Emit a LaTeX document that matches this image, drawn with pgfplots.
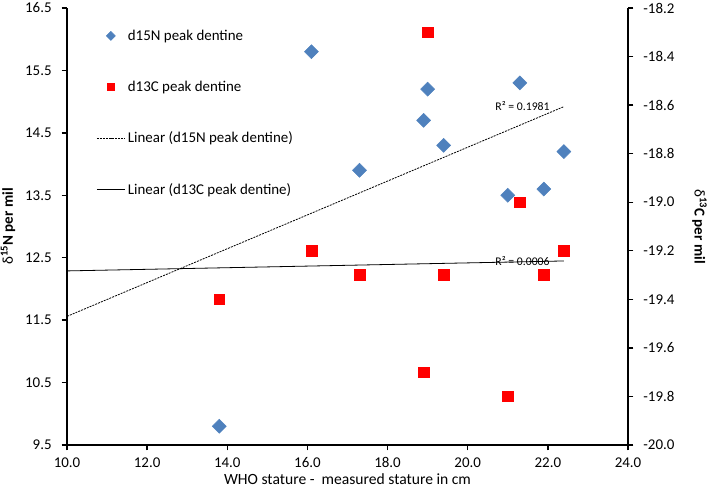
\documentclass[border=0pt]{standalone}
\usepackage{pgfplots}
\pgfplotsset{compat=1.18}
\usepackage{fontspec}
\setmainfont{Carlito}
\definecolor{nblue}{HTML}{4F81BD}
\definecolor{cred}{HTML}{FF0000}

\begin{document}
\begin{tikzpicture}
\pgfplotsset{
  stature/.style={
    scale only axis, width=420.75pt, height=327.75pt,
    xmin=10, xmax=24,
    axis line style={line width=1.8pt},
    tick style={line width=1pt, black},
    major tick length=4pt,
    tick align=outside,
    yticklabel shift=4pt, xticklabel shift=2pt,
    ylabel style={font=\fontsize{11.3}{13}\selectfont},
    /pgf/number format/assume math mode=true,
  },
}
\begin{axis}[name=main, stature,
  axis x line*=bottom, axis y line*=left,
  ymin=9.5, ymax=16.5,
  xtick={10,12,14,16,18,20,22,24},
  ytick={9.5,10.5,11.5,12.5,13.5,14.5,15.5,16.5},
  xticklabel style={font=\fontsize{11.2}{13}\selectfont,
    /pgf/number format/.cd, fixed, fixed zerofill, precision=1},
  yticklabel style={font=\fontsize{11.2}{13}\selectfont,
    /pgf/number format/.cd, fixed, fixed zerofill, precision=1},
  ylabel={δ\textsuperscript{\bfseries 15}\textbf{N per mil}},
  ylabel style={at={(rel axis cs:-0.105,0.5)}, anchor=center},
  legend style={draw=none, fill=none, at={(0.052,0.957)}, anchor=north west,
                font=\fontsize{11.2}{13}\selectfont, row sep=25pt, inner sep=0pt},
  legend cell align=left,
  legend image code/.code={\draw[mark repeat=2, mark phase=2, #1]
      plot coordinates {(0pt,0pt) (10.5pt,0pt) (21pt,0pt)};},
]
\addlegendimage{only marks, mark=square*, mark size=2.4pt, mark options={rotate=45}, nblue}
\addlegendentry{d15N peak dentine}
\addlegendimage{only marks, mark=square*, mark size=2.8pt, cred}
\addlegendentry{d13C peak dentine}
\addlegendimage{black, line width=0.6pt, dash pattern=on 1.5pt off 0.8pt}
\addlegendentry{Linear (d15N peak dentine)}
\addlegendimage{black, line width=0.6pt}
\addlegendentry{Linear (d13C peak dentine)}

\addplot[black, line width=0.6pt, dash pattern=on 1.5pt off 0.8pt, forget plot]
  coordinates {(10,11.56) (22.4,14.92)};
\addplot[only marks, mark=square*, mark size=3.7pt, mark options={rotate=45}, nblue, forget plot]
  coordinates {
  (13.8,9.8) (16.1,15.8) (17.3,13.9) (18.9,14.7) (19.0,15.2)
  (19.4,14.3) (21.0,13.5) (21.3,15.3) (21.9,13.6) (22.4,14.2)};
\node[anchor=east, font=\fontsize{8.8}{10}\selectfont, inner sep=0pt]
  at (axis cs:22.05,14.93) {R² = 0.1981};
\end{axis}

\begin{axis}[stature,
  axis y line*=right, axis x line=none,
  ymin=-20, ymax=-18.2,
  ytick={-20,-19.8,-19.6,-19.4,-19.2,-19,-18.8,-18.6,-18.4,-18.2},
  yticklabel style={font=\fontsize{11.2}{13}\selectfont,
    /pgf/number format/.cd, fixed, fixed zerofill, precision=1},
  ylabel={δ\textsuperscript{\bfseries 13}\textbf{C per mil}},
  ylabel style={at={(rel axis cs:1.1275,0.5)}, anchor=center, rotate=180},
]
\addplot[black, line width=0.6pt]
  coordinates {(10,-19.283) (22.4,-19.242)};
\addplot[only marks, mark=square*, mark size=4pt, cred]
  coordinates {
  (13.8,-19.4) (16.1,-19.2) (17.3,-19.3) (18.9,-19.7) (19.0,-18.3)
  (19.4,-19.3) (21.0,-19.8) (21.3,-19.0) (21.9,-19.3) (22.4,-19.2)};
\node[anchor=east, font=\fontsize{8.8}{10}\selectfont, inner sep=0pt]
  at (axis cs:22.05,-19.242) {R² = 0.0006};
\end{axis}
\node[font=\fontsize{11.7}{14}\selectfont, anchor=center]
  at ([yshift=-25.5pt]main.south) {WHO stature -\ \ measured stature in cm};
\pgfresetboundingbox
\useasboundingbox ([xshift=-50.25pt, yshift=-38.25pt]main.south west)
  rectangle ([xshift=60.75pt, yshift=6pt]main.north east);
\end{tikzpicture}
\end{document}
